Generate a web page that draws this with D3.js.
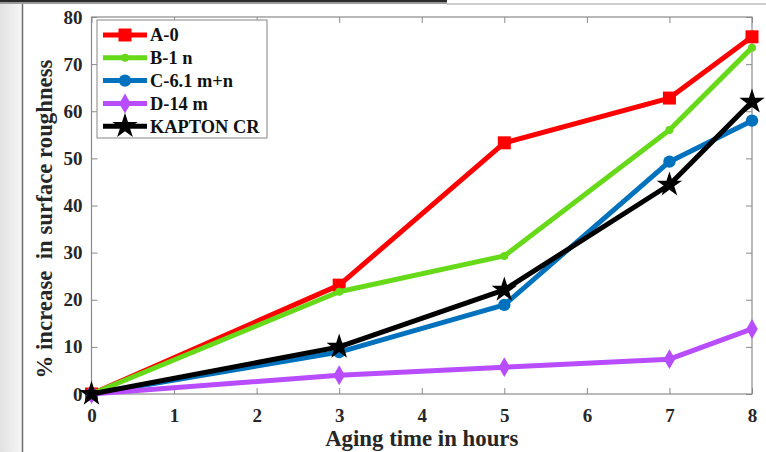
<!DOCTYPE html>
<html>
<head>
<meta charset="utf-8">
<script src="https://cdn.jsdelivr.net/npm/d3@7"></script>
<style>
  body { margin: 0; background: #fff; }
  svg { display: block; font-family: "Liberation Serif", "Times New Roman", serif; }
</style>
</head>
<body>
<div class="vis-holder"></div>
<script>
// aging hours on the x axis
var hours = [0, 3, 5, 7, 8];
// series names, as shown in the legend
var seriesNames = ["A-0", "B-1 n", "C-6.1 m+n", "D-14 m", "KAPTON CR"];
// % increase in surface roughness, one array per sample
var sampleA = [0, 23.1, 53.3, 62.8, 75.8];
var sampleB = [0, 21.7, 29.3, 56.0, 73.5];
var sampleC = [0, 8.9, 18.9, 49.3, 58.0];
var sampleD = [0, 4.0, 5.7, 7.4, 13.8];
var kapton = [0, 10.0, 22.1, 44.4, 62.0];
// tick labels
var xTicks = [0, 1, 2, 3, 4, 5, 6, 7, 8];
var yTicks = [0, 10, 20, 30, 40, 50, 60, 70, 80];

var allValues = [sampleA, sampleB, sampleC, sampleD, kapton];
var colors = ["#ff0000", "#66d919", "#0072bd", "#b84cff", "#000000"];
var symbols = [d3.symbolSquare, d3.symbolCircle, d3.symbolCircle, d3.symbolDiamond, d3.symbolStar];
var symSizes = [169, 50, 120, 115, 200];

var width = 766;
var height = 452;
var margin = { top: 17, bottom: 58, left: 91.5, right: 14 };

var svg = d3.select(".vis-holder")
            .append("svg")
            .attr("width", width)
            .attr("height", height);

// window frame bits around the figure (screenshot edges)
var grad = svg.append("defs").append("linearGradient")
              .attr("id", "leftfade").attr("x1", 0).attr("x2", 1);
grad.append("stop").attr("offset", 0).attr("stop-color", "#e2e2e2");
grad.append("stop").attr("offset", 1).attr("stop-color", "#f6f6f6");
svg.append("rect").attr("x", 0).attr("y", 0).attr("width", 22).attr("height", height).attr("fill", "url(#leftfade)");
svg.append("line").attr("x1", 22.5).attr("x2", 22.5).attr("y1", 4).attr("y2", height)
   .attr("stroke", "#6e6e6e").attr("stroke-width", 1.5);
svg.append("rect").attr("x", 0).attr("y", 0).attr("width", 447).attr("height", 2).attr("fill", "#2a2a2a");
svg.append("rect").attr("x", 0).attr("y", 2).attr("width", 447).attr("height", 2).attr("fill", "#9a9a9a");
svg.append("line").attr("x1", 447).attr("x2", width).attr("y1", 4).attr("y2", 4)
   .attr("stroke", "#9a9a9a").attr("stroke-width", 1.2);

var xScale = d3.scaleLinear()
               .domain([0, 8])
               .range([margin.left, width - margin.right]);

var yScale = d3.scaleLinear()
               .domain([0, 80])
               .range([height - margin.bottom, margin.top]);

var axisColor = "#8a8a8a";
var labelColor = "#262626";

function styleAxis(g, showText) {
  g.select(".domain").remove();
  g.selectAll(".tick line").attr("stroke", axisColor).attr("stroke-width", 1);
  g.selectAll(".tick text")
   .attr("fill", labelColor)
   .attr("font-size", 19)
   .attr("font-weight", "bold")
   .attr("font-family", "'Liberation Serif', 'Times New Roman', serif");
  if (!showText) g.selectAll(".tick text").remove();
}

// bottom and top x axes, ticks pointing inward
svg.append("g")
   .attr("transform", `translate(0, ${yScale(0)})`)
   .call(d3.axisBottom(xScale).tickValues(xTicks).tickFormat(d3.format("d")).tickSize(-6).tickPadding(15))
   .call(function(g) { styleAxis(g, true); });

svg.append("g")
   .attr("transform", `translate(0, ${yScale(80)})`)
   .call(d3.axisTop(xScale).tickValues(xTicks).tickSize(-6))
   .call(function(g) { styleAxis(g, false); });

// left and right y axes
svg.append("g")
   .attr("transform", `translate(${xScale(0)}, 0)`)
   .call(d3.axisLeft(yScale).tickValues(yTicks).tickFormat(d3.format("d")).tickSize(-6).tickPadding(9))
   .call(function(g) { styleAxis(g, true); });

svg.append("g")
   .attr("transform", `translate(${xScale(8)}, 0)`)
   .call(d3.axisRight(yScale).tickValues(yTicks).tickSize(-6))
   .call(function(g) { styleAxis(g, false); });

// plot box
svg.append("rect")
   .attr("x", xScale(0))
   .attr("y", yScale(80))
   .attr("width", xScale(8) - xScale(0))
   .attr("height", yScale(0) - yScale(80))
   .attr("fill", "none")
   .attr("stroke", axisColor)
   .attr("stroke-width", 1.2);

var line = d3.line()
             .x(function(d, i) { return xScale(hours[i]); })
             .y(function(d) { return yScale(d); });

// one line + markers per sample
allValues.forEach(function(vals, s) {
  var g = svg.append("g").attr("class", "series");
  g.append("path")
   .attr("d", line(vals))
   .attr("fill", "none")
   .attr("stroke", colors[s])
   .attr("stroke-width", 5)
   .attr("stroke-linejoin", "round");
  g.selectAll("path.marker")
   .data(vals)
   .enter()
   .append("path")
   .attr("class", "marker")
   .attr("transform", function(d, i) { return "translate(" + xScale(hours[i]) + "," + yScale(d) + ")"; })
   .attr("d", d3.symbol().type(symbols[s]).size(symSizes[s]))
   .attr("fill", colors[s]);
});

// legend
var legend = svg.append("g").attr("transform", "translate(97, 20)");
legend.append("rect")
      .attr("x", 0).attr("y", 0)
      .attr("width", 170).attr("height", 118)
      .attr("fill", "#fff")
      .attr("stroke", "#9a9a9a")
      .attr("stroke-width", 1.2);

var entry = legend.selectAll("g.entry")
                  .data(seriesNames)
                  .enter()
                  .append("g")
                  .attr("class", "entry")
                  .attr("transform", function(d, i) { return "translate(0," + (15 + i * 22.8) + ")"; });

entry.append("line")
     .attr("x1", 6).attr("x2", 50)
     .attr("stroke", function(d, i) { return colors[i]; })
     .attr("stroke-width", 5);

entry.append("path")
     .attr("transform", "translate(28,0)")
     .attr("d", function(d, i) { return d3.symbol().type(symbols[i]).size(symSizes[i])(); })
     .attr("fill", function(d, i) { return colors[i]; });

entry.append("text")
     .attr("x", 53)
     .attr("dy", "0.35em")
     .attr("font-size", 18.4)
     .attr("font-weight", "bold")
     .attr("fill", "#111")
     .text(function(d) { return d; });

// axis titles
svg.append("text")
   .attr("text-anchor", "middle")
   .attr("x", (xScale(0) + xScale(8)) / 2)
   .attr("y", 446)
   .attr("font-size", 22.8)
   .attr("font-weight", "bold")
   .attr("fill", labelColor)
   .text("Aging time in hours");

svg.append("text")
   .attr("text-anchor", "middle")
   .attr("transform", "translate(52," + 219 + ")rotate(-90)")
   .attr("font-size", 22.8)
   .attr("font-weight", "bold")
   .attr("fill", labelColor)
   .style("white-space", "pre")
   .text("% increase  in surface roughness");
</script>
</body>
</html>
